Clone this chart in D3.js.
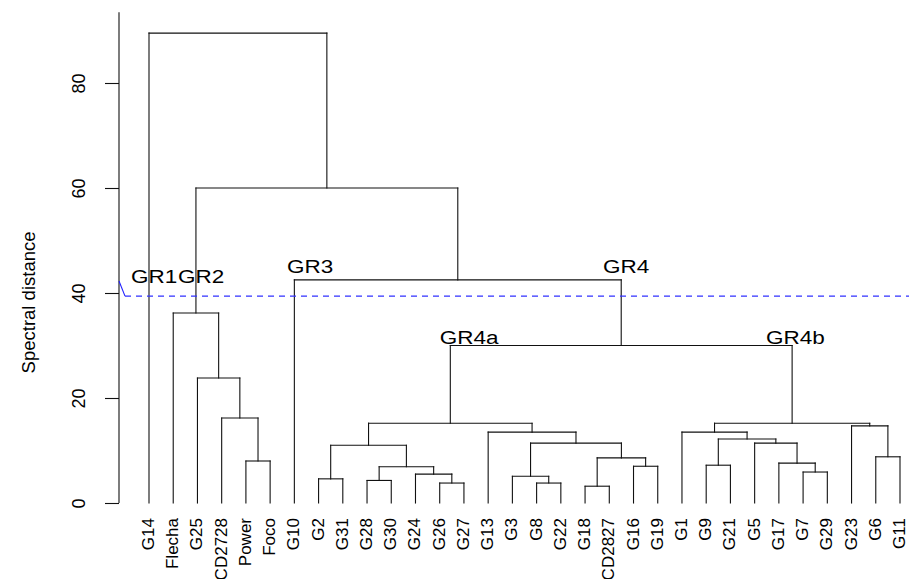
<!DOCTYPE html>
<html>
<head>
<meta charset="utf-8">
<script src="https://cdn.jsdelivr.net/npm/d3@7"></script>
<style>
  body { margin: 0; background: #fff; }
  text { font-family: "Liberation Sans", Arial, sans-serif; fill: #000; }
</style>
</head>
<body>
<div class="chart"></div>
<script>
// leaf order as plotted
const leafLabels = ["G14", "Flecha", "G25", "CD2728", "Power", "Foco", "G10", "G2", "G31",
  "G28", "G30", "G24", "G26", "G27", "G13", "G3", "G8", "G22", "G18", "CD2827", "G16",
  "G19", "G1", "G9", "G21", "G5", "G17", "G7", "G29", "G23", "G6", "G11"];

// hclust style merges: negative = leaf (1-based), positive = earlier merge row (1-based)
const merges = [
  [-19, -20], [-13, -14], [-17, -18], [-10, -11], [-8, -9], [-16, 3], [-12, 2],
  [-28, -29], [4, 7], [-21, -22], [-24, -25], [-27, 8], [-5, -6], [1, 10],
  [-31, -32], [5, 9], [6, 14], [-26, 12], [11, 18], [-15, 17], [-23, 19],
  [-30, 15], [16, 20], [21, 22], [-4, 13], [-3, 25], [23, 24], [-2, 26],
  [-7, 27], [28, 29], [-1, 30]
];
const heights = [3.2, 3.8, 3.8, 4.3, 4.6, 5.1, 5.5, 5.9, 6.9, 7.0, 7.2, 7.6, 8.0, 8.6,
  8.8, 11.0, 11.4, 11.4, 12.2, 13.5, 13.5, 14.7, 15.2, 15.2, 16.2, 23.8, 30.0, 36.2,
  42.5, 60.0, 89.5];

const yTicks = [0, 20, 40, 60, 80];
const cutHeight = 39.4;

// group annotations (x in leaf units, y in distance units)
const groupNames = ["GR1", "GR2", "GR3", "GR4", "GR4a", "GR4b"];
const groupX = [0.26, 2.2, 6.7, 19.74, 13.0, 26.47];
const groupY = [41.9, 41.9, 43.8, 43.8, 30.3, 30.3];

const width = 909, height = 579;

const svg = d3.select(".chart").append("svg")
  .attr("width", width)
  .attr("height", height);

const x = d3.scaleLinear().domain([1, leafLabels.length]).range([149, 900]);
const y = d3.scaleLinear().domain([0, 80]).range([503, 83]);

// node positions
const nodeX = [], nodeH = [];
function pos(ref) {
  if (ref < 0) return { x: x(-ref), h: 0 };
  return { x: nodeX[ref - 1], h: nodeH[ref - 1] };
}
const segs = [];
merges.forEach((m, i) => {
  const a = pos(m[0]), b = pos(m[1]);
  const h = heights[i];
  nodeX.push((a.x + b.x) / 2);
  nodeH.push(h);
  segs.push([a.x, a.h, a.x, h]);
  segs.push([a.x, h, b.x, h]);
  segs.push([b.x, h, b.x, b.h]);
});

svg.append("g")
  .selectAll("line")
  .data(segs)
  .enter()
  .append("line")
  .attr("x1", d => d[0])
  .attr("y1", d => y(d[1]))
  .attr("x2", d => d[2])
  .attr("y2", d => y(d[3]))
  .attr("stroke", "#111")
  .attr("stroke-width", 1.1)
  .attr("stroke-linecap", "square");

// y axis
const yAxis = d3.axisLeft(y).tickValues(yTicks).tickSize(14).tickPadding(0).tickFormat(d3.format("d"));
const ga = svg.append("g")
  .attr("transform", "translate(119,0)")
  .call(yAxis);
ga.select(".domain").remove();
ga.selectAll(".tick line").attr("stroke", "#111").attr("stroke-width", 1.1);
ga.selectAll(".tick text")
  .attr("x", null).attr("dy", null)
  .attr("transform", "translate(-34,0) rotate(-90)")
  .attr("text-anchor", "middle")
  .style("font-size", "18px");
svg.append("line")
  .attr("x1", 119).attr("x2", 119)
  .attr("y1", y(0)).attr("y2", y(93.5))
  .attr("stroke", "#111").attr("stroke-width", 1.1);

svg.append("text")
  .attr("transform", "translate(35," + y(38.2) + ") rotate(-90)")
  .attr("text-anchor", "middle")
  .style("font-size", "18.5px")
  .text("Spectral distance");

// leaf labels
svg.append("g")
  .selectAll("text")
  .data(leafLabels)
  .enter()
  .append("text")
  .attr("transform", (d, i) => "translate(" + (x(i + 1) + 5) + ",518) rotate(-90)")
  .attr("text-anchor", "end")
  .style("font-size", "17px")
  .text(d => d);

// cut line
svg.append("line")
  .attr("x1", 119).attr("y1", y(42.3))
  .attr("x2", 125).attr("y2", y(cutHeight))
  .attr("stroke", "#2020ff").attr("stroke-width", 1.1);
svg.append("line")
  .attr("x1", 125).attr("x2", width)
  .attr("y1", y(cutHeight)).attr("y2", y(cutHeight))
  .attr("stroke", "#3030ff")
  .attr("stroke-width", 1.1)
  .attr("stroke-dasharray", "6,5");

// group labels
svg.append("g")
  .selectAll("text")
  .data(groupNames)
  .enter()
  .append("text")
  .attr("transform", (d, i) => "translate(" + x(groupX[i]) + "," + y(groupY[i]) + ") scale(1.25,1)")
  .style("font-size", "18px")
  .text(d => d);
</script>
</body>
</html>
